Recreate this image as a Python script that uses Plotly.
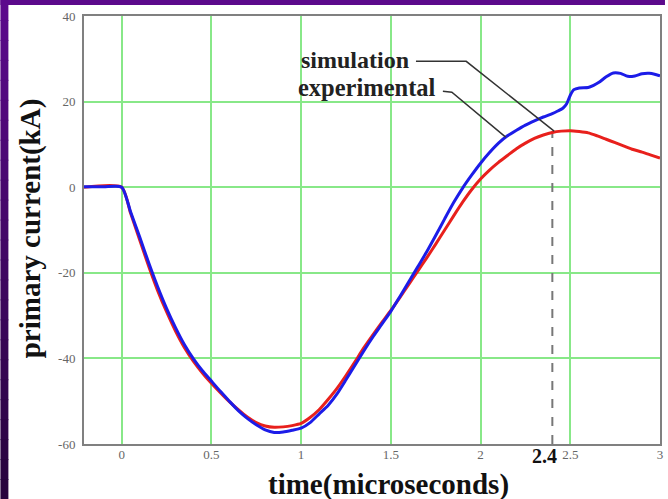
import plotly.graph_objects as go

# Experimental (blue)
t_exp = [-0.21, -0.1, 0.0, 0.05, 0.1, 0.15, 0.2, 0.25, 0.3, 0.35, 0.4, 0.45, 0.5,
         0.55, 0.6, 0.65, 0.7, 0.75, 0.8, 0.85, 0.9, 0.95, 1.0, 1.05, 1.1, 1.15, 1.2,
         1.25, 1.3, 1.35, 1.4, 1.45, 1.5, 1.55, 1.6, 1.65, 1.7, 1.75, 1.8, 1.85, 1.9,
         1.95, 2.0, 2.05, 2.1, 2.15, 2.2, 2.25, 2.3, 2.35, 2.4, 2.43, 2.46, 2.48, 2.5,
         2.52, 2.55, 2.6, 2.63, 2.66, 2.7, 2.74, 2.78, 2.82, 2.86, 2.9, 2.94, 2.97, 3.0]
i_exp = [0.1, 0.1, 0.0, -5.8, -11.6, -17.6, -23.2, -28.3, -32.8, -36.8, -40.1, -42.9, -45.3,
         -47.7, -50.0, -52.2, -54.0, -55.5, -56.7, -57.3, -57.2, -56.8, -56.3, -55.0, -53.0, -51.0, -48.3,
         -45.0, -41.6, -38.2, -35.0, -32.0, -29.0, -25.6, -22.1, -18.6, -15.1, -11.3, -7.4, -3.6, -0.2,
         2.8, 5.6, 8.1, 10.3, 12.0, 13.3, 14.5, 15.5, 16.4, 17.2, 17.8, 18.5, 19.5, 21.5,
         22.8, 23.2, 23.3, 23.8, 24.5, 25.8, 26.7, 26.6, 25.9, 26.0, 26.5, 26.6, 26.4, 26.0]

# Simulation (red)
t_sim = [-0.21, 0.0, 0.05, 0.1, 0.15, 0.2, 0.25, 0.3, 0.35, 0.4, 0.45, 0.5, 0.55, 0.6, 0.65,
         0.7, 0.75, 0.8, 0.85, 0.9, 0.95, 1.0, 1.05, 1.1, 1.15, 1.2, 1.25, 1.3, 1.35, 1.4,
         1.45, 1.5, 1.55, 1.6, 1.65, 1.7, 1.75, 1.8, 1.85, 1.9, 1.95, 2.0, 2.05, 2.1, 2.15,
         2.2, 2.25, 2.3, 2.35, 2.4, 2.45, 2.5, 2.55, 2.6, 2.65, 2.7, 2.75, 2.8, 2.85, 2.9,
         2.95, 3.0]
i_sim = [0.0, 0.0, -6.1, -12.3, -18.4, -24.1, -29.1, -33.6, -37.5, -40.7, -43.4, -45.8, -48.0, -50.1, -52.0,
         -53.7, -55.0, -55.8, -56.1, -56.0, -55.7, -55.2, -53.8, -52.0, -49.6, -47.0, -44.0, -40.8, -37.5, -34.5,
         -31.6, -28.8, -25.8, -22.7, -19.6, -16.5, -13.3, -10.0, -6.7, -3.5, -0.6, 1.9, 4.0, 5.8, 7.4,
         9.0, 10.3, 11.4, 12.2, 12.8, 13.1, 13.2, 13.0, 12.7, 12.0, 11.2, 10.4, 9.6, 8.8, 8.2,
         7.5, 6.8]

x_ticks = [0, 0.5, 1, 1.5, 2, 2.5, 3]
x_tick_text = ["0", "0.5", "1", "1.5", "2", "2.5", "3"]
y_ticks = [-60, -40, -20, 0, 20, 40]
y_tick_text = ["-60", "-40", "-20", "0", "20", "40"]

marker_t = 2.4
marker_label = "2.4"

# pointer lines for labels
sim_ptr_t = [1.64, 1.92, 2.41]
sim_ptr_i = [29.4, 29.4, 13.1]
exp_ptr_t = [1.79, 1.84, 2.14]
exp_ptr_i = [22.4, 22.2, 11.7]

fig = go.Figure()

# dashed marker line
fig.add_trace(go.Scatter(x=[marker_t, marker_t], y=[-60, 13.0], mode="lines",
                         line=dict(color="#777777", width=2, dash="dash"),
                         showlegend=False, hoverinfo="skip"))
fig.add_trace(go.Scatter(x=t_sim, y=i_sim, mode="lines", name="simulation",
                         line=dict(color="#e8201c", width=3, shape="spline", smoothing=0.6),
                         showlegend=False))
fig.add_trace(go.Scatter(x=t_exp, y=i_exp, mode="lines", name="experimental",
                         line=dict(color="#1c1ce8", width=3, shape="spline", smoothing=0.6),
                         showlegend=False))
fig.add_trace(go.Scatter(x=sim_ptr_t, y=sim_ptr_i, mode="lines",
                         line=dict(color="#333333", width=1.5), showlegend=False, hoverinfo="skip"))
fig.add_trace(go.Scatter(x=exp_ptr_t, y=exp_ptr_i, mode="lines",
                         line=dict(color="#333333", width=1.5), showlegend=False, hoverinfo="skip"))

serif = "Liberation Serif, Times New Roman, serif"

annotations = [
    dict(x=1.61, y=29.7, xref="x", yref="y", text="<b>simulation</b>", showarrow=False,
         xanchor="right", yanchor="middle", font=dict(family=serif, size=24, color="#222222")),
    dict(x=1.76, y=23.2, xref="x", yref="y", text="<b>experimental</b>", showarrow=False,
         xanchor="right", yanchor="middle", font=dict(family=serif, size=24.5, color="#222222")),
    dict(x=(547 - 84) / 579, y=(444 - 456) / 428, xref="paper", yref="paper",
         text="<b>" + marker_label + "</b>", showarrow=False, xanchor="center", yanchor="middle",
         font=dict(family=serif, size=20, color="#111111")),
    dict(x=(390 - 84) / 579, y=(444 - 484) / 428, xref="paper", yref="paper",
         text="<b>time(microseconds)</b>", showarrow=False, xanchor="center", yanchor="middle",
         font=dict(family=serif, size=29, color="#111111")),
    dict(x=(30 - 84) / 579, y=(444 - 228) / 428, xref="paper", yref="paper",
         text="<b>primary current(kA)</b>", showarrow=False, xanchor="center", yanchor="middle",
         textangle=-90, font=dict(family=serif, size=29, color="#111111")),
]

# purple frame (top band and left gradient band)
shapes = [dict(type="rect", xref="paper", yref="paper",
               x0=-84 / 579, x1=(668 - 84) / 579, y0=(444 - 5) / 428, y1=444 / 428,
               fillcolor="#5c0a8c", line=dict(width=0), layer="below")]
n = 25
for k in range(n):
    f = k / (n - 1)
    r = int(92 + (40 - 92) * f)
    g = int(10 + (4 - 10) * f)
    b = int(140 + (62 - 140) * f)
    ytop = 0 + k * 499 / n
    ybot = ytop + 499 / n + 1
    shapes.append(dict(type="rect", xref="paper", yref="paper",
                       x0=-84 / 579, x1=(8 - 84) / 579,
                       y0=(444 - ybot) / 428, y1=(444 - ytop) / 428,
                       fillcolor=f"rgb({r},{g},{b})", line=dict(width=0), layer="below"))

fig.update_layout(
    width=668, height=499,
    margin=dict(l=84, r=5, t=16, b=55),
    paper_bgcolor="white", plot_bgcolor="white",
    annotations=annotations, shapes=shapes,
    xaxis=dict(range=[-0.21, 3.0], tickvals=x_ticks, ticktext=x_tick_text,
               showgrid=True, gridcolor="#88e888", gridwidth=1.5,
               showline=True, linecolor="#808080", linewidth=2, mirror=True,
               zeroline=False, ticks="", ticklabelstandoff=-3,
               tickfont=dict(family=serif, size=13, color="#666666")),
    yaxis=dict(range=[-60, 40], tickvals=y_ticks, ticktext=y_tick_text,
               showgrid=True, gridcolor="#88e888", gridwidth=1.5,
               showline=True, linecolor="#808080", linewidth=2, mirror=True,
               zeroline=False, ticks="", ticklabelstandoff=4,
               tickfont=dict(family=serif, size=13, color="#666666")),
)

fig.write_html("out.html")
